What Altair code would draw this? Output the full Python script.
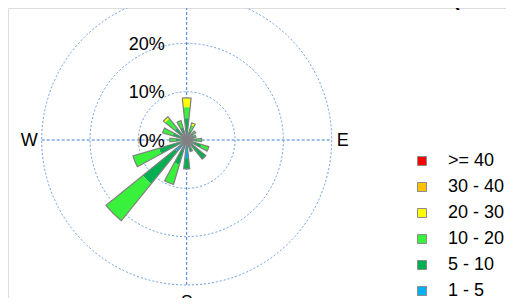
import math
import altair as alt
import pandas as pd

# ---- data ----
directions = ["N", "NNE", "NE", "ENE", "E", "ESE", "SE", "SSE",
              "S", "SSW", "SW", "WSW", "W", "WNW", "NW", "NNW"]
bins = [">= 40", "30 - 40", "20 - 30", "10 - 20", "5 - 10", "1 - 5"]
bin_colors = ["#FF0000", "#FFC000", "#FFFF00", "#39F03C", "#00B050", "#00B0F0"]

s_1_5 =   [1.5, 0.8, 0.8, 0.8, 1.0, 1.2, 1.5, 1.8, 3.8, 2.0, 3.0, 1.5, 0.8, 1.0, 1.0, 1.0]
s_5_10 =  [3.0, 1.2, 1.0, 0.8, 1.2, 2.0, 3.6, 0.7, 2.2, 3.3, 8.7, 4.5, 1.5, 2.0, 2.2, 1.7]
s_10_20 = [2.3, 1.2, 0.6, 0.4, 0.9, 1.6, 0.0, 0.0, 0.0, 4.3, 9.8, 5.6, 1.2, 2.2, 2.5, 1.5]
s_20_30 = [1.9, 0.5, 0.0, 0.0, 0.0, 0.0, 0.0, 0.0, 0.0, 0.0, 0.0, 0.0, 0.0, 0.0, 0.5, 0.0]
s_30_40 = [0.0] * 16
s_ge_40 = [0.0] * 16

ring_values = [10, 20, 30]
ring_labels = ["0%", "10%", "20%", "30%"]
ring_label_values = [0, 10, 20, 30]
title_text = "Wind Rose (km/h)"

# ---- build tables ----
step = 360 / len(directions)
half = 6.0
series = [("1 - 5", s_1_5), ("5 - 10", s_5_10), ("10 - 20", s_10_20),
          ("20 - 30", s_20_30), ("30 - 40", s_30_40), (">= 40", s_ge_40)]
rows, totals = [], []
for i, d in enumerate(directions):
    a = i * step
    cum = 0.0
    for name, vals in series:
        v = vals[i]
        if v > 0:
            rows.append(dict(dir=d, bin=name, t1=a - half, t2=a + half, r1=cum, r2=cum + v))
        cum += v
    totals.append(dict(dir=d, t1=a - half, t2=a + half, r1=0.0, r2=cum))
seg = pd.DataFrame(rows)
tot = pd.DataFrame(totals)
rings = pd.DataFrame(dict(r=ring_values, t1=[0] * 3, t2=[360] * 3))
rlab = pd.DataFrame(dict(v=ring_label_values, label=ring_labels, x=[0] * 4))

CX, CY = 178.7, 132.0
xs = alt.Scale(domain=[-30, 30], range=[CX - 145, CX + 145])
ys = alt.Scale(domain=[-30, 30], range=[CY + 145, CY - 145])
ts = alt.Scale(domain=[0, 360], range=[0, 2 * math.pi])
rs = alt.Scale(type="linear", domain=[0, 30], range=[0, 145], zero=True)

grid_color = "#3F7BD6"

x0 = alt.X(datum=0, scale=xs, axis=None)
y0 = alt.Y(datum=0, scale=ys, axis=None)

ring_layer = alt.Chart(rings).mark_arc(filled=False, stroke="#6A9BE2", strokeWidth=1,
                                       strokeDash=[2, 2]).encode(
    x=x0, y=y0,
    theta=alt.Theta("t1:Q", scale=ts, stack=None), theta2="t2:Q",
    radius=alt.Radius("r:Q", scale=rs), radius2=alt.Radius2(datum=0),
)

hline = alt.Chart(pd.DataFrame(dict(a=[-30], b=[30], c=[0]))).mark_rule(
    color=grid_color, strokeDash=[3, 2], strokeWidth=1).encode(
    x=alt.X("a:Q", scale=xs, axis=None), x2="b:Q", y=alt.Y("c:Q", scale=ys, axis=None))
vline = alt.Chart(pd.DataFrame(dict(a=[-30], b=[30], c=[0]))).mark_rule(
    color=grid_color, strokeDash=[3, 2], strokeWidth=1).encode(
    y=alt.Y("a:Q", scale=ys, axis=None), y2="b:Q", x=alt.X("c:Q", scale=xs, axis=None))

wedges = alt.Chart(seg).mark_arc(stroke=None).encode(
    x=x0, y=y0,
    theta=alt.Theta("t1:Q", scale=ts, stack=None), theta2="t2:Q",
    radius=alt.Radius("r2:Q", scale=rs), radius2="r1:Q",
    color=alt.Color("bin:N", scale=alt.Scale(domain=bins, range=bin_colors),
                    legend=alt.Legend(title=None, orient="none", legendX=405, legendY=144,
                                      symbolType="square", symbolSize=81,
                                      symbolStrokeColor="#8C8C8C", symbolStrokeWidth=1,
                                      labelFontSize=18, labelFont="Liberation Sans",
                                      labelColor="#000000", labelOffset=17,
                                      rowPadding=8, padding=0)),
)

outline = alt.Chart(tot).mark_arc(filled=False, stroke="#808080", strokeWidth=1.2).encode(
    x=x0, y=y0,
    theta=alt.Theta("t1:Q", scale=ts, stack=None), theta2="t2:Q",
    radius=alt.Radius("r2:Q", scale=rs), radius2="r1:Q",
)

ring_text = alt.Chart(rlab).mark_text(align="right", baseline="middle", dx=-22, dy=1.5,
                                      fontSize=18, font="Liberation Sans", color="#000000").encode(
    x=alt.X("x:Q", scale=xs, axis=None), y=alt.Y("v:Q", scale=ys, axis=None), text="label:N")


def dir_label(txt, xv, yv, **kw):
    return alt.Chart(pd.DataFrame(dict(t=[txt], x=[xv], y=[yv]))).mark_text(
        fontSize=18, font="Liberation Sans", color="#000000", **kw).encode(
        x=alt.X("x:Q", scale=xs, axis=None), y=alt.Y("y:Q", scale=ys, axis=None), text="t:N")


lab_w = dir_label("W", -30, 0, align="right", baseline="middle", dx=-4, dy=1)
lab_e = dir_label("E", 30, 0, align="left", baseline="middle", dx=5, dy=1)
lab_s = dir_label("S", 0, -30, align="center", baseline="top", dx=0, dy=9)
lab_n = dir_label("N", 0, 30, align="center", baseline="bottom", dx=0, dy=-9)

title = alt.Chart(pd.DataFrame(dict(t=[title_text], x=[32.6], y=[27.8]))).mark_text(
    fontSize=20, font="Liberation Sans", fontWeight="bold", color="#000000",
    align="left", baseline="alphabetic").encode(
    x=alt.X("x:Q", scale=xs, axis=None), y=alt.Y("y:Q", scale=ys, axis=None), text="t:N")

chart = alt.layer(ring_layer, hline, vline, wedges, outline, ring_text,
                  lab_w, lab_e, lab_s, lab_n, title).properties(
    width=498, height=290, autosize=alt.AutoSizeParams(type="none"), padding=0,
).configure_view(stroke=None).configure(background="#FFFFFF")

chart.save("out.html", embed_options={"renderer": "svg", "actions": False})
